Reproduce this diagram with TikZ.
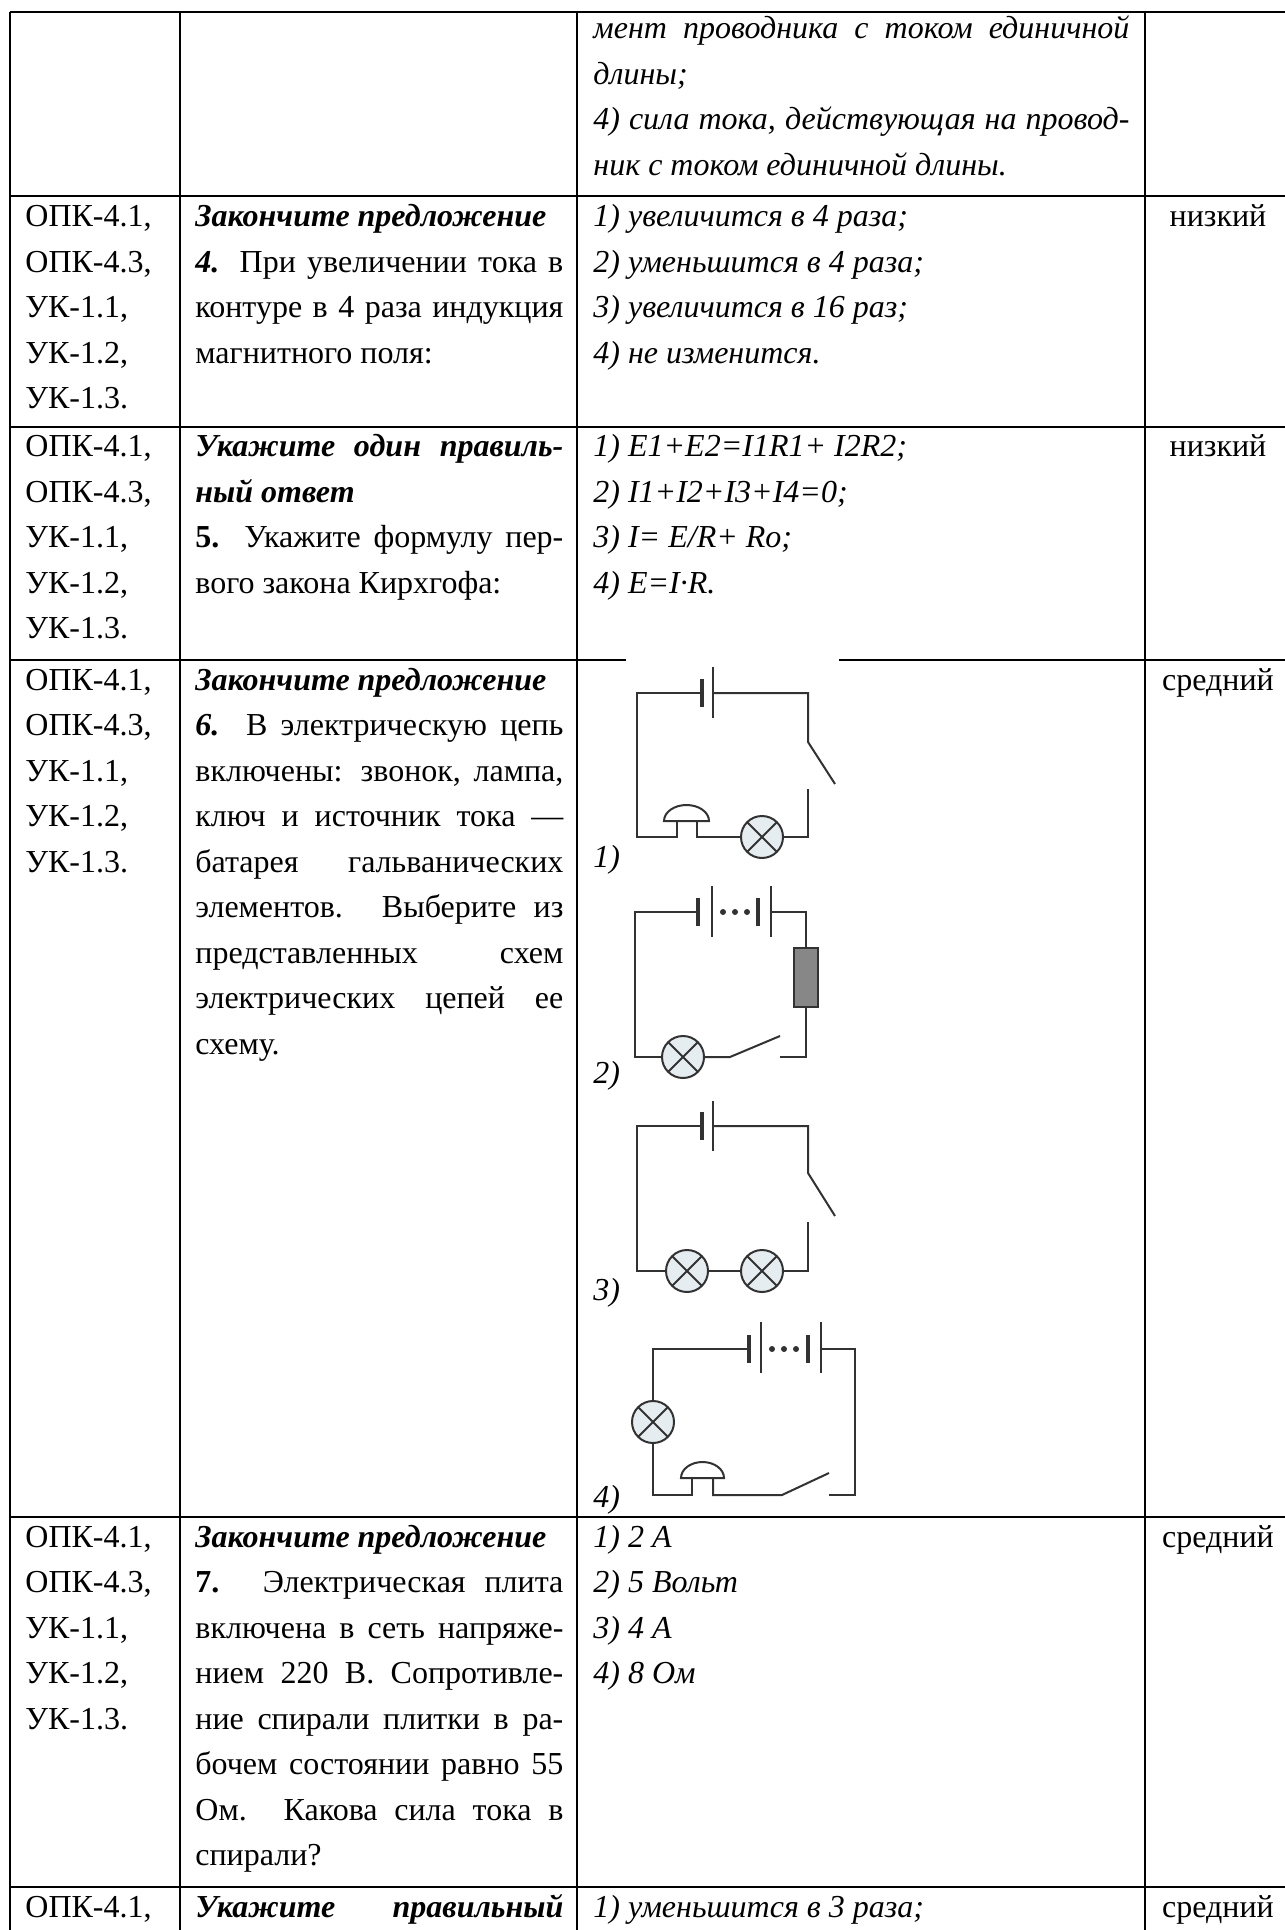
\documentclass[tikz,border=0pt]{standalone}
\usepackage{fontspec}
\setmainfont{Liberation Serif}
\definecolor{wiregray}{RGB}{50,50,50}
\definecolor{lampfill}{RGB}{230,237,241}
\definecolor{resfill}{RGB}{135,135,135}
\tikzset{
  gridline/.style={line width=1.1pt, black},
  wire/.style={draw=wiregray, line width=1pt, line join=miter},
  shortplate/.style={draw=wiregray, line width=2pt},
  longplate/.style={draw=wiregray, line width=1.2pt},
  cell/.style={anchor=base west, inner sep=0pt, font=\fontsize{16}{22.75}\selectfont},
  level/.style={anchor=base, inner sep=0pt, font=\fontsize{16}{22.75}\selectfont},
}
\newcommand{\celllines}[1]{\vtop{\lineskiplimit=-20pt\lineskip=0pt #1}}
\newcommand{\jline}[2][184pt]{\hbox to #1{#2}}
\newcommand{\pline}[1]{\hbox{#1}}
\newcommand{\bfit}[1]{\textbf{\textit{#1}}}
\newcommand{\kodes}{\pline{ОПК-4.1,}\pline{ОПК-4.3,}\pline{УК-1.1,}\pline{УК-1.2,}\pline{УК-1.3.}}
\newcommand{\lamp}[2]{%
  \draw[wire, fill=lampfill] (#1,#2) circle[radius=21];
  \draw[wire] (#1,#2) +(45:21) -- +(225:21) (#1,#2) +(135:21) -- +(315:21);}
\newcommand{\dome}[3]{% left x, right x, base y
  \draw[wire, fill=white] (#2,#3) arc[start angle=0, end angle=-180, x radius={(#2-#1)/2}, y radius=16] -- cycle;}
\begin{document}
\begin{tikzpicture}[x=0.5pt, y=-0.5pt]
\useasboundingbox (0,0) rectangle (1284,1930);
% table grid
\draw[gridline] (10,12) -- (1300,12);
\foreach \yy in {196,427,1517,1887}
  \draw[gridline] (10,\yy) -- (1300,\yy);
\draw[gridline] (10,660) -- (626,660) (839,660) -- (1300,660);
\foreach \xx in {10,180,577,1145}
  \draw[gridline] (\xx,12) -- (\xx,1930);

% row 1 (continued)
\node[cell] (a13) at (593,39) {\celllines{%
  \jline[268pt]{\itshape мент проводника с током единичной}
  \pline{\itshape длины;}
  \jline[268pt]{\itshape 4) сила тока, действующая на провод-}
  \pline{\itshape ник с током единичной длины.}}};

% row 2
\node[cell] (a21) at (25,227) {\celllines{\kodes}};
\node[cell] (a22) at (195,227) {\celllines{%
  \pline{\bfit{Закончите предложение}}
  \jline{\bfit{4.} При увеличении тока в}
  \jline{контуре в 4 раза индукция}
  \pline{магнитного поля:}}};
\node[cell] (a23) at (593,227) {\celllines{%
  \pline{\itshape 1) увеличится в 4 раза;}
  \pline{\itshape 2) уменьшится в 4 раза;}
  \pline{\itshape 3) увеличится в 16 раз;}
  \pline{\itshape 4) не изменится.}}};
\node[level] (a24) at (1218,227) {низкий};

% row 3
\node[cell] (a31) at (25,457) {\celllines{\kodes}};
\node[cell] (a32) at (195,457) {\celllines{%
  \jline{\bfit{Укажите один правиль-}}
  \pline{\bfit{ный ответ}}
  \jline{\textbf{5.} Укажите формулу пер-}
  \pline{вого закона Кирхгофа:}}};
\node[cell] (a33) at (593,457) {\celllines{%
  \pline{\itshape 1) E1+E2=I1R1+ I2R2;}
  \pline{\itshape 2) I1+I2+I3+I4=0;}
  \pline{\itshape 3) I= E/R+ Ro;}
  \pline{\itshape 4) E=I·R.}}};
\node[level] (a34) at (1218,457) {низкий};

% row 4
\node[cell] (a41) at (25,690) {\celllines{\kodes}};
\node[cell] (a42) at (195,690) {\celllines{%
  \pline{\bfit{Закончите предложение}}
  \jline{\bfit{6.} В электрическую цепь}
  \jline{включены: звонок, лампа,}
  \jline{ключ и источник тока —}
  \jline{батарея гальванических}
  \jline{элементов. Выберите из}
  \jline{представленных схем}
  \jline{электрических цепей ее}
  \pline{схему.}}};
\node[level] (a44) at (1218,690) {средний};
\node[cell] (lab1) at (593,867) {\itshape 1)};
\node[cell] (lab2) at (593,1083) {\itshape 2)};
\node[cell] (lab3) at (593,1300) {\itshape 3)};
\node[cell] (lab4) at (593,1507) {\itshape 4)};

% circuit 1: bell, lamp, switch, cell
\draw[wire] (702,693) -- (637,693) -- (637,837) -- (677,837) -- (677,821);
\draw[wire] (713,693) -- (808,693) -- (808,742) -- (835,784);
\draw[wire] (808,789) -- (808,837) -- (783,837);
\draw[wire] (697,821) -- (697,837) -- (741,837);
\draw[shortplate] (702,679) -- (702,707);
\draw[longplate] (713,667) -- (713,718);
\dome{664}{709}{821}
\lamp{762}{837}

% circuit 2: battery, resistor, lamp, switch
\draw[wire] (698,912) -- (635,912) -- (635,1057) -- (662,1057);
\draw[wire] (771,912) -- (806,912) -- (806,948);
\draw[wire] (806,1007) -- (806,1057) -- (780,1057);
\draw[wire] (704,1057) -- (730,1057) -- (780,1036);
\draw[shortplate] (698,898) -- (698,926) (758,898) -- (758,926);
\draw[longplate] (712,886) -- (712,937) (771,886) -- (771,937);
\foreach \dx in {723,735,747}
  \fill[wiregray] (\dx,912) circle[radius=3];
\draw[wire, fill=resfill] (794,948) rectangle (818,1007);
\lamp{683}{1057}

% circuit 3: cell, switch, two lamps
\draw[wire] (702,1126) -- (637,1126) -- (637,1271) -- (666,1271);
\draw[wire] (713,1126) -- (808,1126) -- (808,1173) -- (835,1216);
\draw[wire] (808,1222) -- (808,1271) -- (783,1271);
\draw[wire] (708,1271) -- (741,1271);
\draw[shortplate] (702,1112) -- (702,1140);
\draw[longplate] (713,1101) -- (713,1151);
\lamp{687}{1271}
\lamp{762}{1271}

% circuit 4: battery, lamp, bell, switch
\draw[wire] (749,1349) -- (653,1349) -- (653,1401);
\draw[wire] (653,1443) -- (653,1495) -- (692,1495) -- (692,1478);
\draw[wire] (713,1478) -- (713,1495) -- (782,1495) -- (829,1473);
\draw[wire] (821,1349) -- (855,1349) -- (855,1495) -- (829,1495);
\draw[shortplate] (749,1335) -- (749,1363) (808,1335) -- (808,1363);
\draw[longplate] (761,1322) -- (761,1373) (821,1322) -- (821,1373);
\foreach \dx in {772,784,796}
  \fill[wiregray] (\dx,1349) circle[radius=3];
\dome{681}{724}{1478}
\lamp{653}{1422}

% row 5
\node[cell] (a51) at (25,1547) {\celllines{\kodes}};
\node[cell] (a52) at (195,1547) {\celllines{%
  \pline{\bfit{Закончите предложение}}
  \jline{\textbf{7.} Электрическая плита}
  \jline{включена в сеть напряже-}
  \jline{нием 220 В. Сопротивле-}
  \jline{ние спирали плитки в ра-}
  \jline{бочем состоянии равно 55}
  \jline{Ом. Какова сила тока в}
  \pline{спирали?}}};
\node[cell] (a53) at (593,1547) {\celllines{%
  \pline{\itshape 1) 2 А}
  \pline{\itshape 2) 5 Вольт}
  \pline{\itshape 3) 4 А}
  \pline{\itshape 4) 8 Ом}}};
\node[level] (a54) at (1218,1547) {средний};

% row 6 (cut off)
\node[cell] (a61) at (25,1917) {ОПК-4.1,};
\node[cell] (a62) at (195,1917) {\jline{\bfit{Укажите правильный}}};
\node[cell] (a63) at (593,1917) {\itshape 1) уменьшится в 3 раза;};
\node[level] (a64) at (1218,1917) {средний};
\end{tikzpicture}
\end{document}
